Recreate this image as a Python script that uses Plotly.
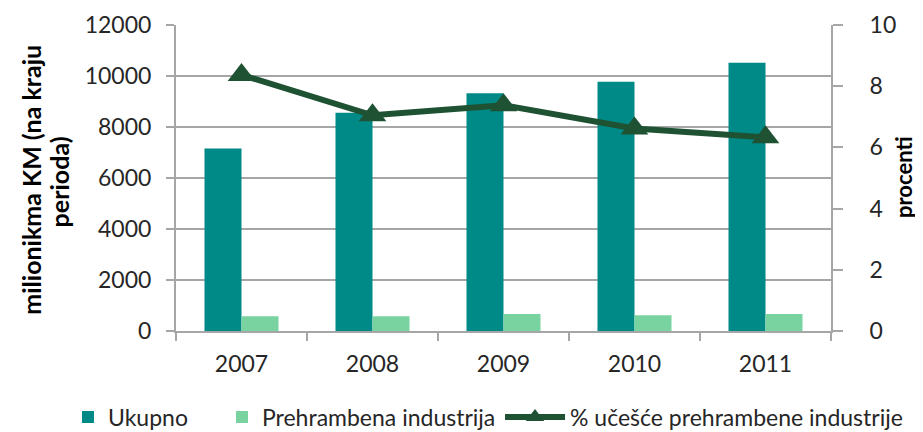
import plotly.graph_objects as go

years = ["2007", "2008", "2009", "2010", "2011"]
ukupno = [7160, 8560, 9320, 9770, 10520]
prehrambena = [580, 575, 665, 615, 665]
ucesce = [8.37, 7.05, 7.38, 6.62, 6.33]

FONT = "Lato"
grid = "#A6A6A6"

# the page body has an 8px default margin; figure is sized to fit the 923x432 window
W, H = 915, 424

fig = go.Figure()
fig.add_trace(go.Bar(x=years, y=ukupno, name="Ukupno", legend="legend",
                     marker=dict(color="#008A87", line=dict(width=0))))
fig.add_trace(go.Bar(x=years, y=prehrambena, name="Prehrambena industrija", legend="legend2",
                     marker=dict(color="#79D3A0", line=dict(width=0))))
fig.add_trace(go.Scatter(x=years, y=ucesce, name="% učešće prehrambene industrije", yaxis="y2",
                         legend="legend3", mode="lines+markers",
                         line=dict(color="#1E5233", width=6),
                         marker=dict(symbol="triangle-up", size=24, color="#1E5233")))

title_font = dict(family=FONT, size=25, color="#000000")
fig.add_annotation(text="<b>milionikma KM (na kraju</b>", textangle=-90, xref="paper", yref="paper",
                   x=-0.2205, y=0.493, xanchor="center", yanchor="middle", showarrow=False, font=title_font)
fig.add_annotation(text="<b>perioda)</b>", textangle=-90, xref="paper", yref="paper",
                   x=-0.1780, y=0.487, xanchor="center", yanchor="middle", showarrow=False, font=title_font)
fig.add_annotation(text="<b>procenti</b>", textangle=-90, xref="paper", yref="paper",
                   x=1.1115, y=0.5033, xanchor="center", yanchor="middle", showarrow=False,
                   font=dict(family=FONT, size=22, color="#000000"))

leg_common = dict(orientation="h", xref="paper", yref="paper", xanchor="left",
                  y=-0.2810, yanchor="middle", font=dict(size=23), bgcolor="rgba(0,0,0,0)")

fig.update_layout(
    width=W, height=H,
    margin=dict(l=168, r=92, t=17, b=101, autoexpand=False),
    paper_bgcolor="white", plot_bgcolor="white",
    font=dict(family=FONT, size=23, color="#262626"),
    barmode="group", bargap=0.435, bargroupgap=0,
    showlegend=True,
    legend=dict(x=-0.1649, itemwidth=30, **leg_common),
    legend2=dict(x=0.0702, itemwidth=30, **leg_common),
    legend3=dict(x=0.4947, itemwidth=60, **leg_common),
    xaxis=dict(type="category", showline=True, linecolor=grid, linewidth=2,
               ticks="outside", ticklen=8, tickcolor=grid, tickwidth=2, automargin=False,
               tickson="boundaries", showgrid=False, ticklabelstandoff=11),
    yaxis=dict(range=[0, 12000], dtick=2000, tickformat="d", showline=True, linecolor=grid, linewidth=2,
               ticks="outside", ticklen=8, tickcolor=grid, tickwidth=2, automargin=False,
               showgrid=True, gridcolor=grid, gridwidth=2, zeroline=False,
               ticklabelstandoff=10),
    yaxis2=dict(range=[0, 10], dtick=2, overlaying="y", side="right", showline=True, automargin=False,
                linecolor=grid, linewidth=2, ticks="outside", ticklen=10, tickcolor=grid, tickwidth=2,
                showgrid=False, zeroline=False, ticklabelstandoff=22),
)

fig.write_html("out.html")
